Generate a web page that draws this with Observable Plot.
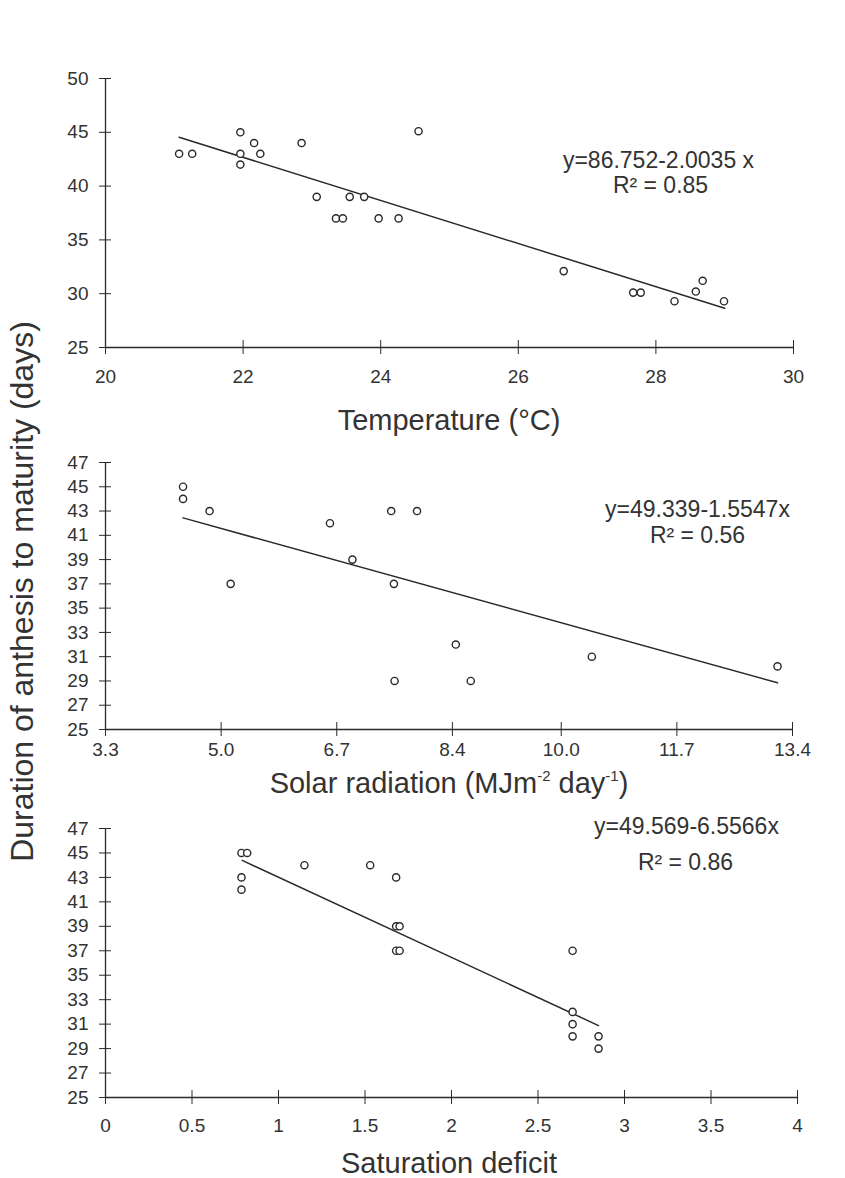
<!DOCTYPE html>
<html><head><meta charset="utf-8">
<script src="https://cdn.jsdelivr.net/npm/d3@7"></script>
<script src="https://cdn.jsdelivr.net/npm/@observablehq/plot@0.6"></script>
<style>
body{margin:0;background:#fff;}
#fig{position:relative;width:845px;height:1178px;font-family:"Liberation Sans",Arial,sans-serif;color:#333;overflow:hidden;}
#fig svg{position:absolute;left:0;overflow:visible;}
.t{position:absolute;left:49px;width:800px;text-align:center;font-size:29px;line-height:1;white-space:nowrap;}
.t sup{font-size:15px;vertical-align:top;position:relative;top:-1px;}
.yl{position:absolute;width:700px;left:-328px;top:575px;height:33px;line-height:33px;text-align:center;font-size:32px;white-space:nowrap;transform:rotate(-90deg);}
</style></head><body><div id="fig">
<div class="t" style="top:406px">Temperature (°C)</div>
<div class="t" style="top:769px">Solar radiation (MJm<sup>-2</sup> day<sup>-1</sup>)</div>
<div class="t" style="top:1149px">Saturation deficit</div>
<div class="yl">Duration of anthesis to maturity (days)</div>
</div>
<script>
// Panel 1: temperature
const tempX = [21.07, 21.26, 21.96, 21.96, 21.96, 22.16, 22.25, 22.85, 23.07, 23.35, 23.45, 23.55, 23.76, 23.97, 24.26, 24.55, 26.66, 27.67, 27.78, 28.27, 28.58, 28.68, 28.99];
const tempY = [43, 43, 45, 43, 42, 44, 43, 44, 39, 37, 37, 39, 39, 37, 37, 45.1, 32.1, 30.1, 30.1, 29.3, 30.2, 31.2, 29.3];
const tempFit = {a: 86.752, b: -2.0035, from: 21.07, to: 29.0};
const tempXTicks = [20, 22, 24, 26, 28, 30];
const tempYTicks = [25, 30, 35, 40, 45, 50];
const tempEq = ["y=86.752-2.0035 x", "R² = 0.85"];

// Panel 2: solar radiation
const solarX = [4.44, 4.44, 4.83, 5.14, 6.60, 6.93, 7.50, 7.54, 7.55, 7.88, 8.45, 8.67, 10.45, 13.18];
const solarY = [45, 44, 43, 37, 42, 39, 43, 37, 29, 43, 32, 29, 31, 30.2];
const solarFit = {a: 49.339, b: -1.5547, from: 4.44, to: 13.18};
const solarXTicks = [3.3, 5.0, 6.7, 8.4, 10.0, 11.7, 13.4];
const oddYTicks = [25, 27, 29, 31, 33, 35, 37, 39, 41, 43, 45, 47];
const solarEq = ["y=49.339-1.5547x", "R² = 0.56"];

// Panel 3: saturation deficit
const satX = [0.786, 0.819, 0.786, 0.786, 1.15, 1.53, 1.68, 1.68, 1.70, 1.68, 1.70, 2.70, 2.70, 2.70, 2.70, 2.85, 2.85];
const satY = [45, 45, 43, 42, 44, 44, 43, 39, 39, 37, 37, 37, 32, 31, 30, 30, 29];
const satFit = {a: 49.569, b: -6.5566, from: 0.79, to: 2.85};
const satXTicks = [0, 0.5, 1, 1.5, 2, 2.5, 3, 3.5, 4];
const satEq = ["y=49.569-6.5566x", "R² = 0.86"];

const fig = document.getElementById("fig");
const ink = "#2a2a2a";

function panel(o) {
  const pts = o.xs.map((x, i) => ({x, y: o.ys[i]}));
  const fitLine = [o.fit.from, o.fit.to].map(x => ({x, y: o.fit.a + o.fit.b * x}));
  const svg = Plot.plot({
    width: 845, height: o.height,
    marginTop: o.mt, marginBottom: o.mb, marginLeft: 105, marginRight: o.mr,
    style: {fontFamily: '"Liberation Sans", Arial, sans-serif', fontSize: "19px", color: "#333", background: "transparent", overflow: "visible"},
    x: {domain: [o.xTicks[0], o.xTicks[o.xTicks.length - 1]]},
    y: {domain: [o.yTicks[0], o.yTicks[o.yTicks.length - 1]]},
    marks: [
      Plot.ruleY([o.yTicks[0]], {stroke: ink, strokeWidth: 1.3}),
      Plot.ruleX([o.xTicks[0]], {stroke: ink, strokeWidth: 1.3}),
      Plot.axisX({ticks: o.xTicks, tickSize: 14, dy: -7, text: null, stroke: ink, label: null}),
      Plot.axisX({ticks: o.xTicks, tickSize: 0, tickPadding: o.xPad, tickFormat: o.fmt, label: null, fontSize: 19}),
      Plot.axisY({ticks: o.yTicks, tickSize: 12, dx: 6, text: null, stroke: ink, label: null}),
      Plot.axisY({ticks: o.yTicks, tickSize: 0, tickPadding: 17, label: null, fontSize: 19}),
      Plot.line(fitLine, {x: "x", y: "y", stroke: ink, strokeWidth: 1.5}),
      Plot.dot(pts, {x: "x", y: "y", r: 3.6, stroke: ink, fill: "white", strokeWidth: 1.4}),
      Plot.text([o.eq[0]], {frameAnchor: "top-right", lineAnchor: "middle", dx: o.eqPos[0], dy: o.eqPos[1], fontSize: 23, textAnchor: "middle", fill: "#333"}),
      Plot.text([o.eq[1]], {frameAnchor: "top-right", lineAnchor: "middle", dx: o.eqPos[2], dy: o.eqPos[3], fontSize: 23, textAnchor: "middle", fill: "#333"})
    ]
  });
  svg.style.top = o.top + "px";
  fig.appendChild(svg);
}

panel({xs: tempX, ys: tempY, fit: tempFit, xTicks: tempXTicks, yTicks: tempYTicks, eq: tempEq,
  top: 0, height: 440, mt: 78, mb: 93, mr: 52, xPad: 22, fmt: d => String(d), eqPos: [-135, 82, -133, 107]});
panel({xs: solarX, ys: solarY, fit: solarFit, xTicks: solarXTicks, yTicks: oddYTicks, eq: solarEq,
  top: 440, height: 360, mt: 22, mb: 71, mr: 53, xPad: 13, fmt: d => d.toFixed(1), eqPos: [-95, 47, -95, 73]});
panel({xs: satX, ys: satY, fit: satFit, xTicks: satXTicks, yTicks: oddYTicks, eq: satEq,
  top: 800, height: 378, mt: 28, mb: 81, mr: 48, xPad: 21, fmt: d => String(d), eqPos: [-111, -2, -112, 34]});
</script></body></html>
